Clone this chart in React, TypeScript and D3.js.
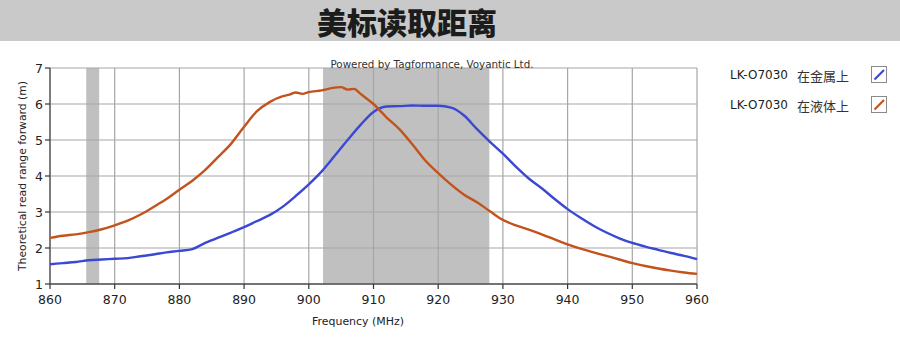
import React from "react";
import * as d3 from "d3";

const TITLE = "美标读取距离";
const WATERMARK = "Powered by Tagformance, Voyantic Ltd.";
const X_LABEL = "Frequency (MHz)";
const Y_LABEL = "Theoretical read range forward (m)";

const xTicks = [860, 870, 880, 890, 900, 910, 920, 930, 940, 950, 960];
const yTicks = [1, 2, 3, 4, 5, 6, 7];

const bands: [number, number][] = [
  [865.6, 867.6],
  [902.2, 927.9],
];

const seriesNames = ["LK-O7030", "LK-O7030"];
const seriesSub = ["在金属上", "在液体上"];
const seriesColors = ["#3a48d4", "#c2531d"];

const metalFreq = [860, 862, 864, 866, 868, 870, 872, 874, 876, 878, 880, 882, 884, 886, 888, 890, 892, 894, 896, 898, 900, 902, 904, 906, 908, 910, 912, 914, 916, 918, 920, 922, 924, 926, 928, 930, 932, 934, 936, 938, 940, 942, 944, 946, 948, 950, 952, 954, 956, 958, 960];
const metalRange = [1.55, 1.58, 1.61, 1.66, 1.68, 1.7, 1.72, 1.77, 1.82, 1.88, 1.92, 1.97, 2.14, 2.29, 2.43, 2.58, 2.75, 2.92, 3.15, 3.45, 3.77, 4.13, 4.56, 5.0, 5.42, 5.78, 5.93, 5.94, 5.96, 5.95, 5.95, 5.9, 5.68, 5.3, 4.95, 4.62, 4.26, 3.93, 3.66, 3.36, 3.08, 2.84, 2.62, 2.43, 2.27, 2.14, 2.04, 1.95, 1.86, 1.78, 1.69];

const liquidFreq = [860, 862, 864, 866, 868, 870, 872, 874, 876, 878, 880, 882, 884, 886, 888, 890, 892, 894, 896, 897, 898, 899, 900, 902, 903.5, 905, 906, 907, 908, 910, 912, 914, 916, 918, 920, 922, 924, 926, 928, 930, 932, 934, 936, 938, 940, 942, 944, 946, 948, 950, 952, 954, 956, 958, 960];
const liquidRange = [2.28, 2.34, 2.38, 2.44, 2.52, 2.63, 2.76, 2.93, 3.14, 3.36, 3.62, 3.87, 4.17, 4.53, 4.9, 5.37, 5.8, 6.06, 6.22, 6.26, 6.32, 6.28, 6.33, 6.38, 6.44, 6.47, 6.4, 6.42, 6.28, 6.0, 5.63, 5.3, 4.88, 4.43, 4.08, 3.76, 3.48, 3.27, 3.02, 2.78, 2.63, 2.51, 2.38, 2.24, 2.1, 1.98, 1.88, 1.78, 1.68, 1.58, 1.5, 1.43, 1.37, 1.32, 1.28];

const W = 900;
const H = 355;
const X0 = 50;
const X1 = 697;
const Y0 = 284;
const Y1 = 68;

export default function App() {
  const x = d3.scaleLinear().domain([860, 960]).range([X0, X1]);
  const y = d3.scaleLinear().domain([1, 7]).range([Y0, Y1]);
  const line = d3
    .line<[number, number]>()
    .x((d) => x(d[0]))
    .y((d) => y(d[1]))
    .curve(d3.curveMonotoneX);

  const metal = metalFreq.map((f, i) => [f, metalRange[i]] as [number, number]);
  const liquid = liquidFreq.map((f, i) => [f, liquidRange[i]] as [number, number]);
  const series = [metal, liquid];

  const tickFont = "'DejaVu Sans', Verdana, sans-serif";

  return (
    <svg
      width={W}
      height={H}
      style={{ position: "absolute", left: 0, top: 0, background: "#fff" }}
    >
      <rect x={0} y={0} width={W} height={H} fill="#fff" />
      {/* header */}
      <rect x={0} y={0} width={W} height={41} fill="#c9c9c9" />
      <text
        x={407}
        y={21}
        textAnchor="middle"
        dominantBaseline="central"
        fontFamily="'Noto Sans CJK SC', sans-serif"
        fontWeight={900}
        fontSize={30}
        fill="#1c1c1c"
      >
        {TITLE}
      </text>

      {/* bands */}
      {bands.map(([a, b], i) => (
        <rect key={i} x={x(a)} y={Y1} width={x(b) - x(a)} height={Y0 - Y1} fill="#c0c0c0" />
      ))}

      {/* grid */}
      {xTicks.map((t) => (
        <line key={"gx" + t} x1={x(t)} x2={x(t)} y1={Y1} y2={Y0} stroke="#a6a6a6" strokeWidth={1.2} />
      ))}
      {yTicks.map((t) => (
        <line key={"gy" + t} x1={X0} x2={X1} y1={y(t)} y2={y(t)} stroke="#a6a6a6" strokeWidth={1.2} />
      ))}

      {/* axes */}
      <line x1={X0} x2={X0} y1={Y1} y2={Y0} stroke="#555" strokeWidth={1.3} />
      <line x1={X0} x2={X1} y1={Y0} y2={Y0} stroke="#555" strokeWidth={1.3} />
      {yTicks.map((t) => (
        <g key={"yt" + t}>
          <line x1={X0 - 5} x2={X0} y1={y(t)} y2={y(t)} stroke="#333" strokeWidth={1.2} />
          <text
            x={X0 - 7}
            y={y(t)}
            textAnchor="end"
            dominantBaseline="central"
            fontFamily={tickFont}
            fontSize={12.5}
            fill="#222"
          >
            {t}
          </text>
        </g>
      ))}
      {xTicks.map((t) => (
        <g key={"xt" + t}>
          <line x1={x(t)} x2={x(t)} y1={Y0} y2={Y0 + 5} stroke="#333" strokeWidth={1.2} />
          <text
            x={x(t)}
            y={Y0 + 15}
            textAnchor="middle"
            dominantBaseline="central"
            fontFamily={tickFont}
            fontSize={12.5}
            fill="#222"
          >
            {t}
          </text>
        </g>
      ))}

      {/* lines */}
      {series.map((s, i) => (
        <path
          key={"s" + i}
          d={line(s) || ""}
          fill="none"
          stroke={seriesColors[i]}
          strokeWidth={2.4}
          strokeLinejoin="round"
        />
      ))}

      {/* watermark */}
      <text
        x={432}
        y={64}
        textAnchor="middle"
        dominantBaseline="central"
        fontFamily={tickFont}
        fontSize={10.5}
        textLength={203}
        lengthAdjust="spacingAndGlyphs"
        fill="#333"
      >
        {WATERMARK}
      </text>

      {/* axis labels */}
      <text
        x={358}
        y={321}
        textAnchor="middle"
        dominantBaseline="central"
        fontFamily={tickFont}
        fontSize={11}
        textLength={92}
        lengthAdjust="spacingAndGlyphs"
        fill="#222"
      >
        {X_LABEL}
      </text>
      <text
        transform={`translate(22,${(Y0 + Y1) / 2 - 0}) rotate(-90)`}
        textAnchor="middle"
        dominantBaseline="central"
        fontFamily={tickFont}
        fontSize={11}
        textLength={190}
        lengthAdjust="spacingAndGlyphs"
        fill="#222"
      >
        {Y_LABEL}
      </text>

      {/* legend */}
      {seriesNames.map((n, i) => {
        const cy = 75 + i * 30;
        return (
          <g key={"lg" + i}>
            <text
              x={788}
              y={cy}
              textAnchor="end"
              dominantBaseline="central"
              fontFamily={tickFont}
              fontSize={12}
              fill="#222"
            >
              {n}
            </text>
            <text
              x={797}
              y={cy}
              dominantBaseline="central"
              fontFamily="'Noto Sans CJK SC', sans-serif"
              fontSize={13}
              fill="#333"
            >
              {seriesSub[i]}
            </text>
            <rect x={871.5} y={cy - 8.5} width={15} height={16} fill="#fff" stroke="#8a8a8a" strokeWidth={1} />
            <line
              x1={874.5}
              y1={cy + 4.5}
              x2={884}
              y2={cy - 5}
              stroke={seriesColors[i]}
              strokeWidth={2.2}
            />
          </g>
        );
      })}
    </svg>
  );
}
